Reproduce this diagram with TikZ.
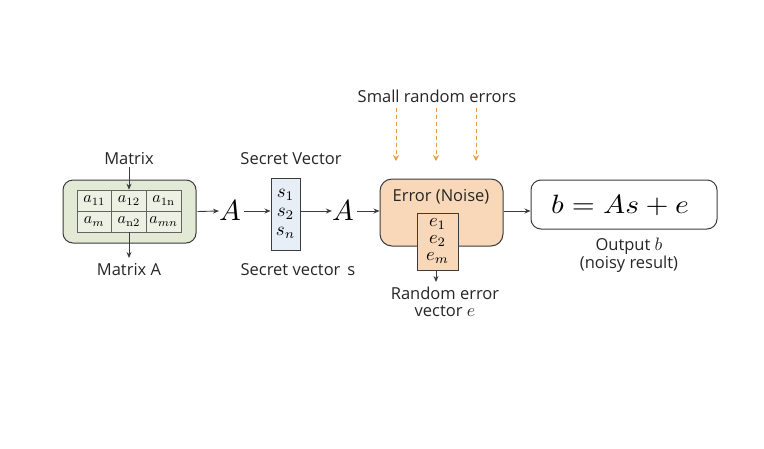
\documentclass[tikz,border=0pt]{standalone}
\usepackage{graphicx}
\usepackage{fontspec}
\setsansfont{Open Sans}
\usetikzlibrary{arrows.meta,positioning}
\definecolor{mgreen}{HTML}{E2E9D5}
\definecolor{mgrid}{HTML}{EDF1E4}
\definecolor{sblue}{HTML}{E8EEF6}
\definecolor{npeach}{HTML}{F8D8B8}
\definecolor{dorange}{HTML}{EC9A45}
\definecolor{edge}{HTML}{3C3C3C}
% math set at 10pt, then scaled to the wanted size
\newcommand{\smath}[2]{\scalebox{#1}{\fontsize{10}{12}\selectfont$#2$}}
\newcommand{\wmath}[3]{\scalebox{#1}[#2]{\fontsize{10}{12}\selectfont$#3$}}
\begin{document}
\begin{tikzpicture}[x=1pt,y=-1pt,
  lbl/.style={font=\sffamily\fontsize{16.5}{19}\selectfont, text=black!85, inner sep=0pt},
  arr/.style={-{Stealth[length=6pt,width=5pt]}, line width=0.9pt, draw=edge},
  darr/.style={-{Stealth[length=6pt,width=6pt]}, dashed, dash pattern=on 4pt off 3pt, line width=1pt, draw=dorange},
  bigA/.style={inner sep=0pt},
  entry/.style={inner sep=0pt}]
\useasboundingbox[fill=white] (0,0) rectangle (764,448);

% matrix block
\node[draw=edge, line width=1pt, fill=mgreen, rounded corners=10pt, minimum width=133pt, minimum height=63pt] (mat) at (129.5,211.5) {};
\foreach \c/\x in {1/94.3,2/129,3/163.7}{
  \foreach \r/\y in {1/200.5,2/221.5}{
    \node[draw=edge!80, line width=0.6pt, fill=mgrid, minimum width=34.7pt, minimum height=21pt, inner sep=0pt] (g\r\c) at (\x,\y) {};
  }
}
\node at (g11) {\smath{1.6}{a_{11}}};
\node at (g12) {\smath{1.6}{a_{12}}};
\node at (g13) {\smath{1.6}{a_{1\mathrm{n}}}};
\node at (g21) {\smath{1.6}{a_{m}}};
\node at (g22) {\smath{1.6}{a_{\mathrm{n}2}}};
\node at (g23) {\smath{1.6}{a_{mn}}};
\node[lbl] (matT) at (129,159) {Matrix};
\node[lbl] (matB) at (129,270) {Matrix A};
\draw[arr] (129,167) -- (g12.north);
\draw[arr] (g22.south) -- (129,258);

% first A
\node[bigA] (A1) at (230,211) {\smath{2.9}{A}};
\draw[arr] (mat.east) ++(1,0) -- (A1.west);

% secret vector
\node[draw=edge, line width=1pt, fill=sblue, minimum width=29pt, minimum height=72pt, inner sep=0pt] (sv) at (285.5,214) {};
\node[entry] at (285.5,195) {\smath{1.9}{s_1}};
\node[entry] at (285.5,214) {\smath{1.9}{s_2}};
\node[entry] at (285.5,233) {\smath{1.9}{s_n}};
\node[lbl] (svT) at (291,159) {Secret Vector};
\node[lbl] (svB) at (298,270) {Secret vector \,s};
\draw[arr] (A1.east) ++(3,0) -- (sv.west |- A1.east);

% second A
\node[bigA] (A2) at (343,211) {\smath{2.9}{A}};
\draw[arr] (sv.east |- A2.west) -- (A2.west);

% error block
\node[draw=edge, line width=1pt, fill=npeach, rounded corners=12pt, minimum width=123pt, minimum height=67pt] (err) at (441.5,212.5) {};
\node[lbl] at (441,197) {Error (Noise)};
\node[draw=edge, line width=0.9pt, fill=npeach, minimum width=41pt, minimum height=57pt, inner sep=0pt] (ev) at (437.5,241.5) {};
\node[entry] at (437.5,224) {\smath{1.85}{e_1}};
\node[entry] at (437.5,241) {\smath{1.85}{e_2}};
\node[entry] at (437.5,258) {\smath{1.85}{e_m}};
\draw[arr] (A2.east) ++(3,0) -- (err.west |- A2.east);
\draw[arr] (436,270) -- (436,282);
\node[lbl] at (445,293) {Random error};
\node[lbl] at (445,311) {vector \smath{1.8}{e}};

% small random errors
\node[lbl] (sre) at (437,96) {Small random errors};
\foreach \x in {396,436,476}{
  \draw[darr] (\x,108) -- (\x,161);
}

% output
\node[draw=edge, line width=1pt, fill=white, rounded corners=10pt, minimum width=186pt, minimum height=49pt] (out) at (624,204.5) {};
\node at (620,205) {\wmath{2.95}{2.65}{b = As + e}};
\draw[arr] (err.east |- 0,211) -- (out.west |- 0,211);
\node[lbl] at (629,246) {Output \smath{1.8}{b}};
\node[lbl] at (629,264) {(noisy result)};
\end{tikzpicture}
\end{document}
